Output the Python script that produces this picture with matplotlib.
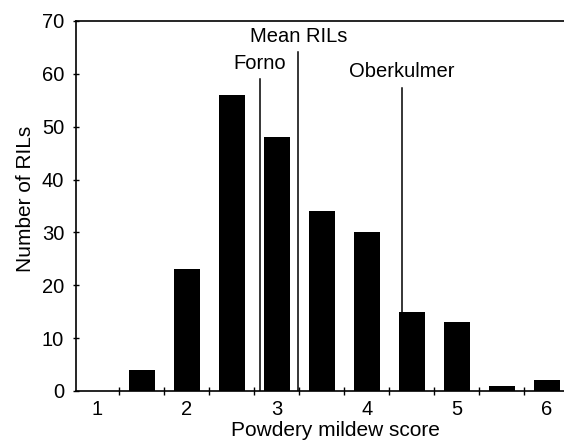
import numpy as np
import matplotlib
matplotlib.use("Agg")
import matplotlib.pyplot as plt

# score classes (half-point steps) and number of RILs in each
scores = [1.0, 1.5, 2.0, 2.5, 3.0, 3.5, 4.0, 4.5, 5.0, 5.5, 6.0]
counts = [0, 4, 23, 56, 48, 34, 30, 15, 13, 1, 2]

# reference lines: label, x position, line top
ref_names = ["Forno", "Mean RILs", "Oberkulmer"]
ref_x = [2.81, 3.24, 4.39]
ref_top = [59.0, 64.1, 57.3]
ref_text_y = [62.0, 67.0, 60.4]

x_labels = ["1", "2", "3", "4", "5", "6"]
x_label_pos = [1, 2, 3, 4, 5, 6]
bin_edges = [1.25, 1.75, 2.25, 2.75, 3.25, 3.75, 4.25, 4.75, 5.25, 5.75]

plt.rcParams['font.family'] = ['Liberation Sans', 'DejaVu Sans']

fig = plt.figure(figsize=(5.64, 4.41), dpi=100)
ax = fig.add_axes([76 / 564, 1 - 391 / 441, 1 - 76 / 564, (391 - 21) / 441])

ax.bar(scores, counts, width=0.29, color='black', zorder=2)

for name, xv, top, ty in zip(ref_names, ref_x, ref_top, ref_text_y):
    ax.plot([xv, xv], [0, top], color='black', lw=1.1, zorder=3)
    ax.text(xv, ty, name, ha='center', va='center', fontsize=14.5)

ax.set_xlim(0.77, 6.19)
ax.set_ylim(0, 70)

ax.spines['right'].set_visible(False)
for s in ['left', 'bottom', 'top']:
    ax.spines[s].set_linewidth(1.2)

ax.set_xticks(x_label_pos)
ax.set_xticklabels(x_labels)
ax.set_xticks(bin_edges, minor=True)
ax.tick_params(axis='x', which='major', length=0, pad=6.5, labelsize=14.5)
ax.tick_params(axis='x', which='minor', direction='inout', length=6, width=1)
ax.set_yticks(np.arange(0, 71, 10))
ax.tick_params(axis='y', which='major', direction='inout', length=5, width=1,
               pad=6, labelsize=14.5)

ax.set_xlabel('Powdery mildew score', fontsize=15)
ax.xaxis.set_label_coords(0.531, -0.082)
ax.set_ylabel('Number of RILs', fontsize=15)
ax.yaxis.set_label_coords(-0.085, 0.52)

fig.savefig('out.png', dpi=100)
